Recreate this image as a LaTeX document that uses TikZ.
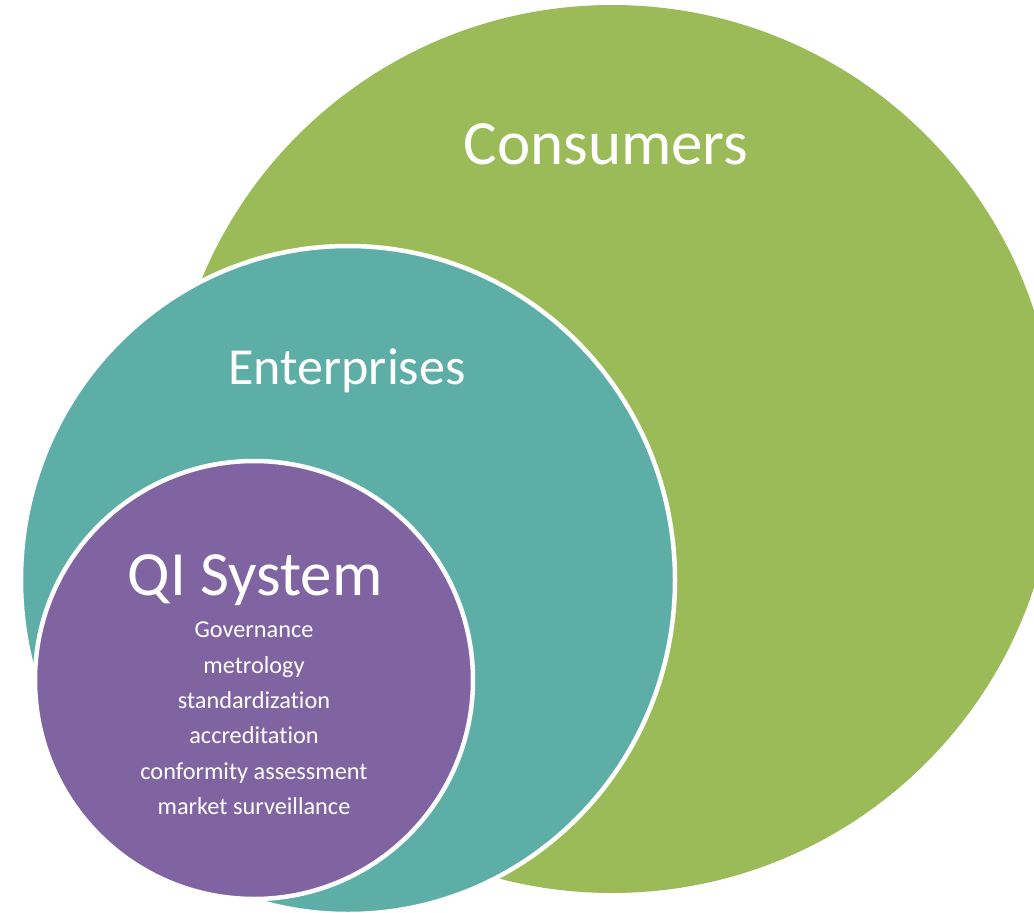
\documentclass[tikz,border=0pt]{standalone}
\usepackage{fontspec}
\setmainfont[Ligatures=NoCommon]{Carlito}
\definecolor{consgreen}{HTML}{9BBB59}
\definecolor{entteal}{HTML}{5DAEA6}
\definecolor{qipurple}{HTML}{8064A2}
\begin{document}
\begin{tikzpicture}[x=1pt,y=-1pt,
  ring/.style={draw=white,line width=4.5pt},
  title/.style={text=white,anchor=base,inner sep=0pt},
  items/.style={text=white,anchor=base,inner sep=0pt,align=center,font=\fontsize{24.3}{35.3}\selectfont}]
\useasboundingbox (0,0) rectangle (1034,913);
\fill[consgreen] (612,449) circle[radius=444];
\path[ring,fill=entteal] (348,580) ellipse[x radius=327,y radius=334];
\path[ring,fill=qipurple] (254,680) circle[radius=219];
\node[title,font=\fontsize{63}{70}\selectfont] (cons) at (606,164) {Consumers};
\node[title,font=\fontsize{52}{60}\selectfont] (ent) at (347,384) {Enterprises};
\node[title,font=\fontsize{63}{70}\selectfont] (qi) at (255,595) {QI System};
\node[items,anchor=north] (list) at (254,622) {Governance\\metrology\\standardization\\accreditation\\conformity assessment\\market surveillance};
\end{tikzpicture}
\end{document}
